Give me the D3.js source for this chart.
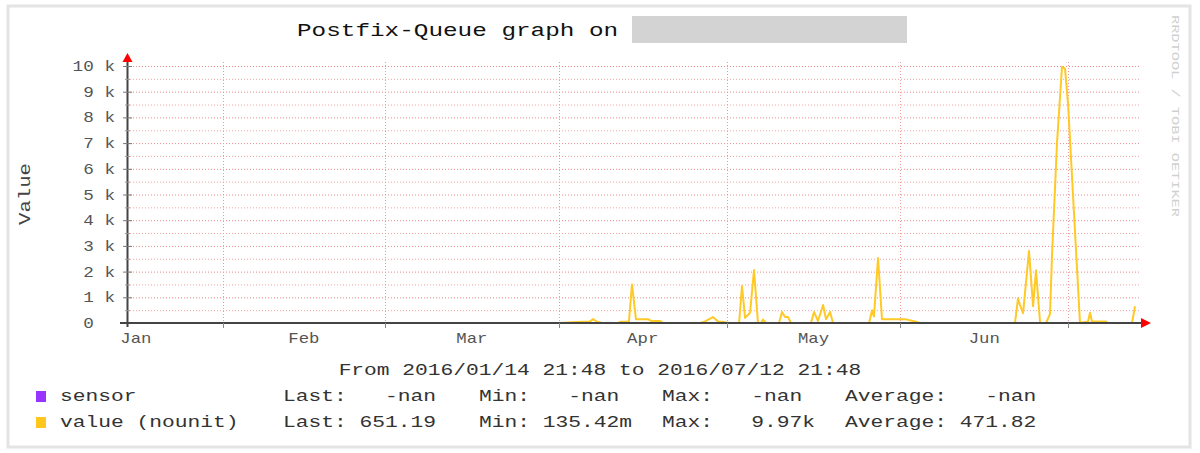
<!DOCTYPE html>
<html>
<head>
<meta charset="utf-8">
<script src="https://cdn.jsdelivr.net/npm/d3@7"></script>
<style>
  html, body { margin: 0; padding: 0; background: #ffffff; }
  svg { display: block; }
  text { font-family: "Liberation Mono", "Courier New", monospace; }
</style>
</head>
<body>
<svg id="chart" width="1200" height="453"></svg>
<script>
// ---------------- data ----------------
const titleText = "Postfix-Queue graph on";
const yAxisTitle = "Value";
const watermark = "RRDTOOL / TOBI OETIKER";
const periodText = "From 2016/01/14 21:48 to 2016/07/12 21:48";
const rangeStart = "2016-01-14T21:48";
const rangeEnd = "2016-07-12T21:48";

const monthStarts = ["2016-01-01", "2016-02-01", "2016-03-01", "2016-04-01", "2016-05-01", "2016-06-01", "2016-07-01"];
const monthLabels = ["Jan", "Feb", "Mar", "Apr", "May", "Jun"];

const yTickValues = [0, 1000, 2000, 3000, 4000, 5000, 6000, 7000, 8000, 9000, 10000];
const yTickNumbers = ["0", "1", "2", "3", "4", "5", "6", "7", "8", "9", "10"];
const yTickUnits = ["", "k", "k", "k", "k", "k", "k", "k", "k", "k", "k"];
const yMinorValues = [500, 1500, 2500, 3500, 4500, 5500, 6500, 7500, 8500, 9500];

const times = [
  "2016-04-01T05:30", "2016-04-04T06:30", "2016-04-06T14:00", "2016-04-07T03:00", "2016-04-07T20:00",
  "2016-04-08T17:30", "2016-04-11T14:00", "2016-04-12T03:00", "2016-04-13T13:00", "2016-04-14T02:00",
  "2016-04-14T19:00", "2016-04-16T23:00", "2016-04-17T11:30", "2016-04-19T02:00", "2016-04-19T15:00",
  "2016-04-26T05:30", "2016-04-27T03:00", "2016-04-28T13:00", "2016-04-29T11:00", "2016-04-30T12:30",
  "2016-05-01T05:30", "2016-05-03T05:00", "2016-05-03T17:30", "2016-05-04T06:30", "2016-05-05T04:00",
  "2016-05-05T21:00", "2016-05-06T14:00", "2016-05-07T03:00", "2016-05-07T11:30", "2016-05-08T00:30",
  "2016-05-10T08:00", "2016-05-10T21:00", "2016-05-11T10:00", "2016-05-11T23:00", "2016-05-12T11:30",
  "2016-05-16T01:00", "2016-05-16T14:00", "2016-05-17T07:00", "2016-05-18T05:00", "2016-05-18T17:30",
  "2016-05-19T11:00", "2016-05-19T23:30", "2016-05-26T10:00", "2016-05-26T23:00", "2016-05-27T07:00",
  "2016-05-28T00:30", "2016-05-28T17:30", "2016-06-01T20:00", "2016-06-03T15:00", "2016-06-04T12:30",
  "2016-06-21T11:30", "2016-06-22T00:30", "2016-06-22T09:00", "2016-06-22T22:00", "2016-06-23T23:30",
  "2016-06-24T17:00", "2016-06-25T05:30", "2016-06-25T23:00", "2016-06-27T00:30", "2016-06-27T17:30",
  "2016-06-28T02:00", "2016-06-28T23:30", "2016-06-29T21:00", "2016-06-30T10:00", "2016-06-30T23:00",
  "2016-07-03T02:00", "2016-07-04T12:30", "2016-07-04T21:00", "2016-07-05T05:30", "2016-07-07T17:30",
  "2016-07-08T02:00", "2016-07-12T09:00", "2016-07-12T21:48"
];
const values = [
  1, 40, 60, 150, 50,
  1, 1, 50, 60, 1500,
  150, 150, 80, 80, 1,
  1, 60, 230, 60, 40,
  1, 1, 1440, 200, 400,
  2060, 1, 1, 130, 1,
  1, 430, 230, 230, 1,
  1, 430, 80, 700, 150,
  430, 1, 1, 500, 250,
  2530, 150, 150, 60, 1,
  1, 960, 700, 380, 2800,
  650, 2050, 1, 1, 350,
  2600, 7000, 9970, 9900, 8500,
  1, 60, 400, 60, 60,
  1, 1, 651.19
];

const legendNames = ["sensor", "value (nounit)"];
const legendColors = ["#9933ff", "#ffc61e"];
const statLabels = ["Last:", "Min:", "Max:", "Average:"];
const statsSensor = ["-nan", "-nan", "-nan", "-nan"];
const statsValue = ["651.19", "135.42m", "9.97k", "471.82"];

// ---------------- drawing ----------------
const svg = d3.select("#chart");
const parse = d3.utcParse("%Y-%m-%dT%H:%M");
const parseDay = d3.utcParse("%Y-%m-%d");

const x = d3.scaleUtc().domain([parse(rangeStart), parse(rangeEnd)]).range([127, 1135]);
const y = d3.scaleLinear().domain([0, 10000]).range([323, 66]);

function mono(g, str, px, py, charW, size, anchor) {
  const len = str.length * charW;
  const sx = anchor === "end" ? px - len : anchor === "middle" ? px - len / 2 : px;
  return g.append("text")
    .attr("x", sx).attr("y", py)
    .attr("font-size", size)
    .attr("textLength", len)
    .attr("lengthAdjust", "spacingAndGlyphs")
    .text(str);
}

// frame
svg.append("rect").attr("x", 8).attr("y", 6).attr("width", 1182).attr("height", 441)
  .attr("fill", "#ffffff").attr("stroke", "#e4e4e4").attr("stroke-width", 3);

// title
mono(svg, titleText, 297, 36, 14.6, 19, "start").attr("fill", "#111");
svg.append("rect").attr("x", 632).attr("y", 16).attr("width", 275).attr("height", 27).attr("fill", "#d3d3d3");

// watermark (vertical)
svg.append("text")
  .attr("transform", "translate(1172,15) rotate(90)")
  .attr("font-size", 10)
  .attr("textLength", 202)
  .attr("lengthAdjust", "spacingAndGlyphs")
  .attr("fill", "#d0d0d0")
  .text(watermark);

// grid
const grid = svg.append("g");
grid.selectAll("line.minor").data(yMinorValues).join("line")
  .attr("x1", 127).attr("x2", 1140)
  .attr("y1", d => y(d) + 0.5).attr("y2", d => y(d) + 0.5)
  .attr("stroke", "#f2a3a3").attr("stroke-width", 1).attr("stroke-dasharray", "1,2");
grid.selectAll("line.major").data(yTickValues.slice(1)).join("line")
  .attr("x1", 127).attr("x2", 1140)
  .attr("y1", d => y(d) + 0.5).attr("y2", d => y(d) + 0.5)
  .attr("stroke", "#ec8a8a").attr("stroke-width", 1).attr("stroke-dasharray", "1,2");
const monthDates = monthStarts.map(parseDay);
grid.selectAll("line.vert").data(monthDates.slice(1)).join("line")
  .attr("x1", d => Math.round(x(d)) + 0.5).attr("x2", d => Math.round(x(d)) + 0.5)
  .attr("y1", 62).attr("y2", 323)
  .attr("stroke", "#ec9a9a").attr("stroke-width", 1).attr("stroke-dasharray", "1,2");

// series line
const pts = times.map((t, i) => [parse(t), values[i]]);
svg.append("path").datum(pts)
  .attr("fill", "none")
  .attr("stroke", "#ffc926")
  .attr("stroke-width", 2)
  .attr("stroke-linejoin", "round")
  .attr("d", d3.line().x(d => x(d[0])).y(d => y(d[1])));

// axes
const axisColor = "#444";
svg.append("line").attr("x1", 120).attr("x2", 1141).attr("y1", 323).attr("y2", 323)
  .attr("stroke", axisColor).attr("stroke-width", 2);
svg.append("line").attr("x1", 127.5).attr("x2", 127.5).attr("y1", 327).attr("y2", 61)
  .attr("stroke", axisColor).attr("stroke-width", 2);
svg.append("path").attr("d", "M1141,318 L1151,323 L1141,328 Z").attr("fill", "#ff0000");
svg.append("path").attr("d", "M122.5,62 L127.5,53 L132.5,62 Z").attr("fill", "#ff0000");

// ticks
svg.selectAll("line.ytick").data(yTickValues.slice(1)).join("line")
  .attr("x1", 123).attr("x2", 132).attr("y1", d => y(d) + 0.5).attr("y2", d => y(d) + 0.5)
  .attr("stroke", "#777").attr("stroke-width", 1);
svg.selectAll("line.yminor").data(yMinorValues).join("line")
  .attr("x1", 125).attr("x2", 130).attr("y1", d => y(d) + 0.5).attr("y2", d => y(d) + 0.5)
  .attr("stroke", "#999").attr("stroke-width", 1);
svg.selectAll("line.xtick").data(monthDates.slice(1)).join("line")
  .attr("x1", d => Math.round(x(d)) + 0.5).attr("x2", d => Math.round(x(d)) + 0.5)
  .attr("y1", 323).attr("y2", 328)
  .attr("stroke", "#888").attr("stroke-width", 1);

// y labels
const ylab = svg.append("g").attr("fill", "#555");
yTickValues.forEach((v, i) => {
  mono(ylab, yTickNumbers[i], 93.8, y(v) + 5, 10.6, 15, "end");
  if (yTickUnits[i]) mono(ylab, yTickUnits[i], 104.4, y(v) + 5, 10.6, 15, "start");
});

// x labels at month midpoints
const xlab = svg.append("g").attr("fill", "#555");
monthLabels.forEach((m, i) => {
  const mid = new Date((monthDates[i].getTime() + monthDates[i + 1].getTime()) / 2);
  const px = Math.max(x(mid), 134);
  mono(xlab, m, px, 343, 10.4, 15, "middle");
});

// y axis title
svg.append("text")
  .attr("transform", "translate(30,194) rotate(-90)")
  .attr("text-anchor", "middle")
  .attr("font-size", 16)
  .attr("fill", "#444")
  .attr("textLength", 62)
  .attr("lengthAdjust", "spacingAndGlyphs")
  .text(yAxisTitle);

// period
mono(svg, periodText, 600, 375, 12.75, 16, "middle").attr("fill", "#333");

// legend
const cw = 12.75;
const rowsY = [401, 427];
const statCols = [283, 479, 662, 845];
const statLens = [12, 12, 12, 15];
const leg = svg.append("g").attr("fill", "#333");
[statsSensor, statsValue].forEach((stats, r) => {
  leg.append("rect").attr("x", 36).attr("y", rowsY[r] - 10).attr("width", 10).attr("height", 11)
    .attr("fill", legendColors[r]);
  mono(leg, legendNames[r], 60, rowsY[r], cw, 16, "start");
  statLabels.forEach((lab, j) => {
    mono(leg, lab, statCols[j], rowsY[r], cw, 16, "start");
    let s = stats[j];
    const hasPrefix = /[a-zA-Z]$/.test(s) && s !== "-nan";
    const endX = statCols[j] + statLens[j] * cw - (hasPrefix ? 0 : (j === 1 || j === 2 ? cw : 0));
    mono(leg, s, endX, rowsY[r], cw, 16, "end");
  });
});
</script>
</body>
</html>
